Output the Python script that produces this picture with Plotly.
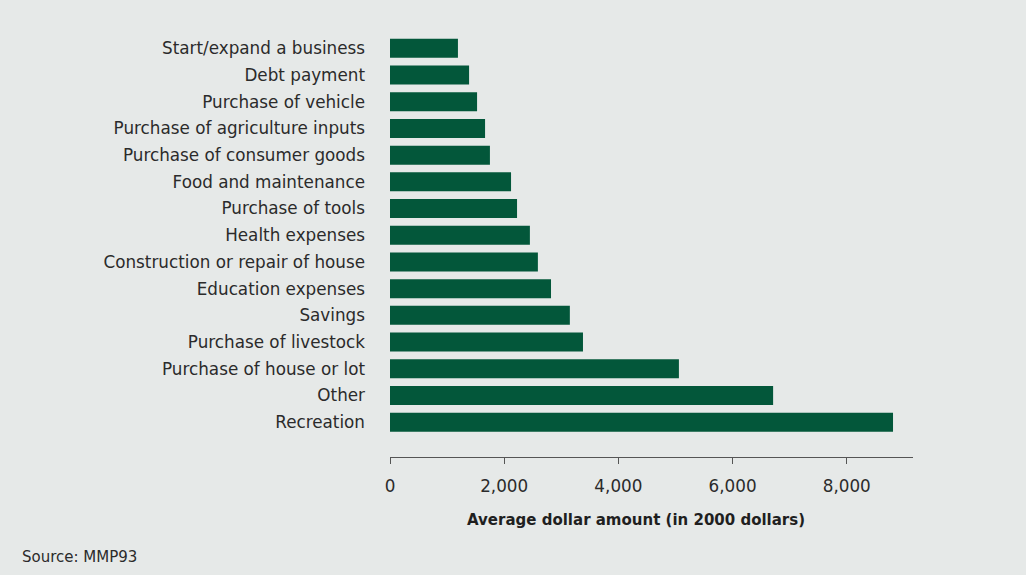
import plotly.graph_objects as go

# Uses of remittances, listed top to bottom as shown
categories = [
    "Start/expand a business",
    "Debt payment",
    "Purchase of vehicle",
    "Purchase of agriculture inputs",
    "Purchase of consumer goods",
    "Food and maintenance",
    "Purchase of tools",
    "Health expenses",
    "Construction or repair of house",
    "Education expenses",
    "Savings",
    "Purchase of livestock",
    "Purchase of house or lot",
    "Other",
    "Recreation",
]
amounts = [1190, 1385, 1525, 1665, 1750, 2120, 2225, 2450, 2590, 2820, 3150, 3380, 5060, 6710, 8810]

tick_values = [0, 2000, 4000, 6000, 8000]
tick_labels = ["0", "2,000", "4,000", "6,000", "8,000"]

W, H = 1026, 575
M_L, M_R, M_T, M_B = 389.5, 113, 35, 118
BG = "#e6e9e8"
BAR = "#03573a"
TEXT = "#2b2b2b"
FONT = "DejaVu Sans"

# Plotly draws the first category at the bottom, so reverse the order
fig = go.Figure(
    go.Bar(
        x=amounts[::-1],
        y=categories[::-1],
        orientation="h",
        marker=dict(color=BAR, line=dict(width=0)),
        width=0.71,
        hoverinfo="x+y",
    )
)

n = len(categories)
plot_h = H - M_T - M_B
pitch = 26.7
fig.update_layout(
    width=W,
    height=H,
    margin=dict(l=M_L, r=M_R, t=M_T, b=M_B, pad=0),
    paper_bgcolor=BG,
    plot_bgcolor=BG,
    font=dict(family=FONT, color=TEXT, size=16),
    showlegend=False,
    xaxis=dict(
        range=[0, 9160],
        tickvals=tick_values,
        ticktext=tick_labels,
        showgrid=False,
        zeroline=False,
        showline=True,
        linecolor="#555555",
        linewidth=1,
        ticks="outside",
        ticklen=6,
        tickcolor="#555555",
        tickwidth=1,
        ticklabelstandoff=8,
        tickfont=dict(size=16.8, color=TEXT),
    ),
    yaxis=dict(
        range=[n - 0.5 - plot_h / pitch, n - 0.5],
        showgrid=False,
        zeroline=False,
        showline=False,
        ticks="",
        ticklabelstandoff=24,
        tickfont=dict(size=16.8, color=TEXT),
    ),
    annotations=[
        dict(
            text="<b>Average dollar amount (in 2000 dollars)</b>",
            xref="paper",
            yref="paper",
            x=(635.5 - M_L) / (W - M_L - M_R),
            y=-(520 - (H - M_B)) / plot_h,
            xanchor="center",
            yanchor="middle",
            showarrow=False,
            font=dict(size=15, color="#1f1f1f", family=FONT),
        ),
        dict(
            text="Source: MMP93",
            xref="paper",
            yref="paper",
            x=-(M_L - 19) / (W - M_L - M_R),
            y=-(557 - (H - M_B)) / plot_h,
            xanchor="left",
            yanchor="middle",
            showarrow=False,
            font=dict(size=15, color=TEXT, family=FONT),
        ),
    ],
)

fig.write_html("out.html")
